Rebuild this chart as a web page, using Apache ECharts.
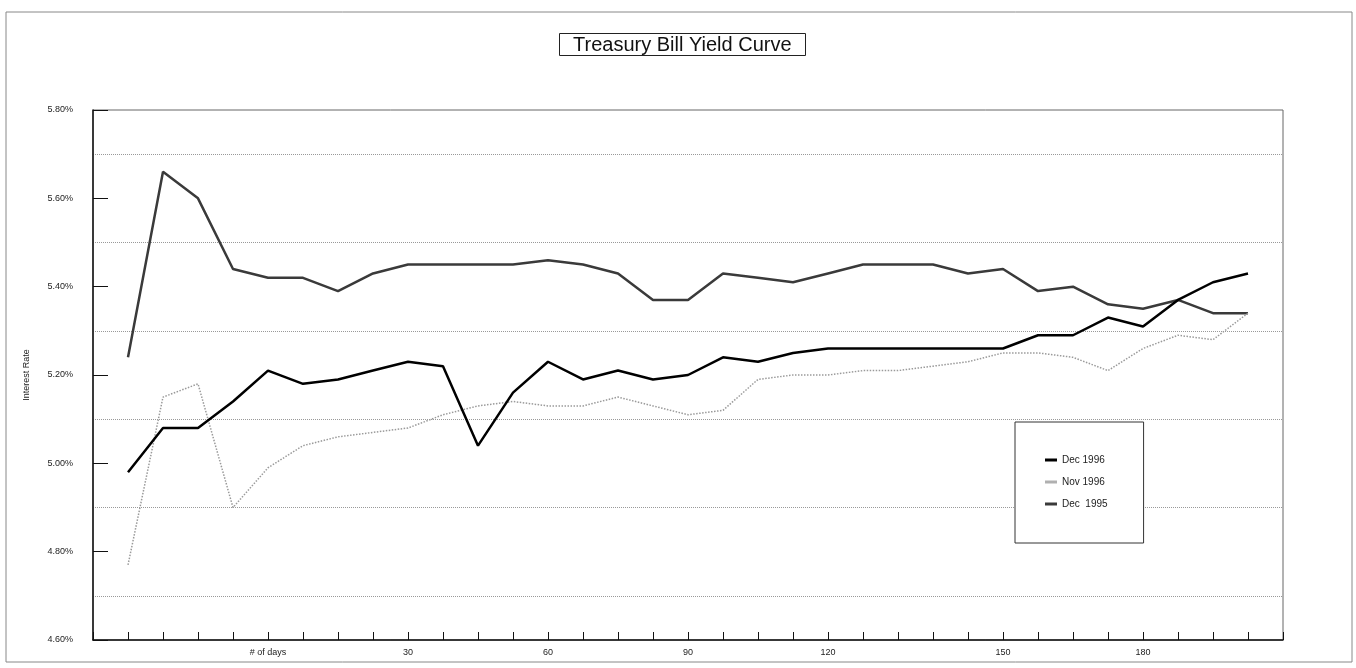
<!DOCTYPE html>
<html>
<head>
<meta charset="utf-8">
<script src="https://cdn.jsdelivr.net/npm/echarts@6/dist/echarts.min.js"></script>
<style>
  html, body { margin: 0; padding: 0; background: #fff; }
  #chart { width: 1356px; height: 668px; }
</style>
</head>
<body>
<div id="chart"></div>
<script>
// category slots: first and last are empty padding slots
const dayLabels = ['', '', '', '', '', '# of days', '', '', '', '30', '', '', '', '60', '', '', '', '90',
  '', '', '', '120', '', '', '', '', '150', '', '', '', '180', '', '', '', '']

const dec1996 = [4.98, 5.08, 5.08, 5.14, 5.21, 5.18, 5.19, 5.21, 5.23, 5.22, 5.04, 5.16, 5.23, 5.19, 5.21, 5.19, 5.20,
  5.24, 5.23, 5.25, 5.26, 5.26, 5.26, 5.26, 5.26, 5.26, 5.29, 5.29, 5.33, 5.31, 5.37, 5.41, 5.43]
const nov1996 = [4.77, 5.15, 5.18, 4.90, 4.99, 5.04, 5.06, 5.07, 5.08, 5.11, 5.13, 5.14, 5.13, 5.13, 5.15, 5.13, 5.11,
  5.12, 5.19, 5.20, 5.20, 5.21, 5.21, 5.22, 5.23, 5.25, 5.25, 5.24, 5.21, 5.26, 5.29, 5.28, 5.34]
const dec1995 = [5.24, 5.66, 5.60, 5.44, 5.42, 5.42, 5.39, 5.43, 5.45, 5.45, 5.45, 5.45, 5.46, 5.45, 5.43, 5.37, 5.37,
  5.43, 5.42, 5.41, 5.43, 5.45, 5.45, 5.45, 5.43, 5.44, 5.39, 5.40, 5.36, 5.35, 5.37, 5.34, 5.34]

const seriesNames = ['Dec 1996', 'Nov 1996', 'Dec  1995']

// pad with empty slots at both ends
const pad = (arr) => ['-'].concat(arr, ['-'])

const font = 'Arial, "Liberation Sans", sans-serif'
const chart = echarts.init(document.getElementById('chart'))

const option = {
  animation: false,
  backgroundColor: '#fff',
  textStyle: { fontFamily: font },
  title: {
    text: 'Treasury Bill Yield Curve',
    left: 559,
    top: 33,
    padding: [2, 14, 1, 14],
    borderColor: '#222',
    borderWidth: 1,
    textStyle: { fontFamily: font, fontSize: 20, fontWeight: 'normal', color: '#111' },
  },
  graphic: [
    {
      type: 'rect',
      shape: { x: 6, y: 12, width: 1346, height: 650 },
      style: { fill: null, stroke: '#888', lineWidth: 1 },
      silent: true,
    },
  ],
  legend: {
    orient: 'vertical',
    left: 1015,
    top: 422,
    padding: [33, 36, 34, 30],
    itemGap: 12,
    itemWidth: 12,
    itemHeight: 3,
    icon: 'rect',
    borderColor: '#333',
    borderWidth: 1,
    backgroundColor: '#fff',
    data: seriesNames,
    textStyle: { fontFamily: font, fontSize: 10, color: '#222' },
  },
  grid: {
    left: 93,
    top: 110,
    width: 1190,
    height: 530,
    show: true,
    borderColor: '#666',
    borderWidth: 1,
  },
  xAxis: {
    type: 'category',
    data: dayLabels,
    boundaryGap: false,
    axisLine: { lineStyle: { color: '#111', width: 1.5 } },
    axisTick: { inside: true, length: 8, interval: 0, lineStyle: { color: '#111' } },
    axisLabel: { interval: 0, fontSize: 9, color: '#222', margin: 8 },
    splitLine: { show: false },
  },
  yAxis: {
    type: 'value',
    min: 4.6,
    max: 5.8,
    interval: 0.2,
    name: 'Interest Rate',
    nameLocation: 'middle',
    nameRotate: 90,
    nameGap: 62,
    nameTextStyle: { fontSize: 9, color: '#222' },
    axisLine: { show: true, lineStyle: { color: '#111', width: 1.5 } },
    axisTick: { show: true, inside: true, length: 15, lineStyle: { color: '#111' } },
    axisLabel: {
      fontSize: 9,
      color: '#222',
      margin: 20,
      formatter: (v) => v.toFixed(2) + '%',
    },
    splitLine: { show: false },
    minorTick: { show: false, splitNumber: 2 },
    minorSplitLine: { show: true, lineStyle: { color: '#999', type: 'dotted', width: 1 } },
  },
  series: [
    {
      name: seriesNames[0],
      type: 'line',
      data: pad(dec1996),
      symbol: 'none',
      lineStyle: { color: '#000', width: 2.5 },
      itemStyle: { color: '#000' },
      z: 4,
    },
    {
      name: seriesNames[1],
      type: 'line',
      data: pad(nov1996),
      symbol: 'none',
      lineStyle: { color: '#9a9a9a', width: 1.5, type: 'dotted' },
      itemStyle: { color: '#b0b0b0' },
      z: 3,
    },
    {
      name: seriesNames[2],
      type: 'line',
      data: pad(dec1995),
      symbol: 'none',
      lineStyle: { color: '#3a3a3a', width: 2.5 },
      itemStyle: { color: '#3a3a3a' },
      z: 2,
    },
  ],
}

chart.setOption(option)
</script>
</body>
</html>
